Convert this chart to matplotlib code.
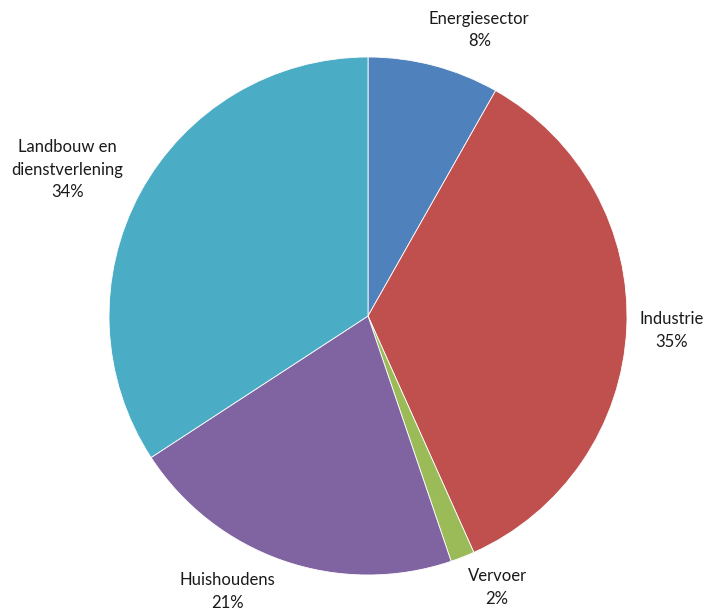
import numpy as np
import matplotlib
matplotlib.use("Agg")
import matplotlib.pyplot as plt

# Share per sector (percent), clockwise from the top
sectors = ["Energiesector", "Industrie", "Vervoer", "Huishoudens",
           "Landbouw en\ndienstverlening"]
shares = [8.2, 35.1, 1.5, 21.0, 34.2]
colors = ["#4F81BD", "#C0504D", "#9BBB59", "#8064A2", "#4BACC6"]

# small angular nudges (degrees) so the labels sit like the Excel layout
label_nudge = [6.5, 0.0, -4.0, 8.0, -2.5]

plt.rcParams['font.family'] = ['Lato', 'DejaVu Sans']

fig = plt.figure(figsize=(7.11, 6.15), dpi=100)
ax = fig.add_axes([109 / 711, 40 / 615, 518 / 711, 518 / 615])

wedges, _ = ax.pie(shares, colors=colors, startangle=90, counterclock=False,
                   radius=1.0, wedgeprops=dict(edgecolor="white", linewidth=0.6))
ax.set_xlim(-1, 1)
ax.set_ylim(-1, 1)
ax.set_aspect("equal")
ax.axis("off")

fig.canvas.draw()
renderer = fig.canvas.get_renderer()
px_per_unit = ax.transData.transform((1, 0))[0] - ax.transData.transform((0, 0))[0]

for w, name, val, nudge in zip(wedges, sectors, shares, label_nudge):
    mid = np.deg2rad((w.theta1 + w.theta2) / 2 - nudge)
    u = np.array([np.cos(mid), np.sin(mid)])
    txt = ax.text(0, 0, f"{name}\n{val:.0f}%", ha="center", va="center",
                  fontsize=12, color="#1a1a1a", linespacing=1.5)
    bb = txt.get_window_extent(renderer)
    half_w = bb.width / 2 / px_per_unit
    half_h = bb.height / 2 / px_per_unit
    r = 1.045 + abs(u[0]) * half_w + abs(u[1]) * half_h
    txt.set_position(tuple(u * r))

fig.savefig("out.png", dpi=100)
